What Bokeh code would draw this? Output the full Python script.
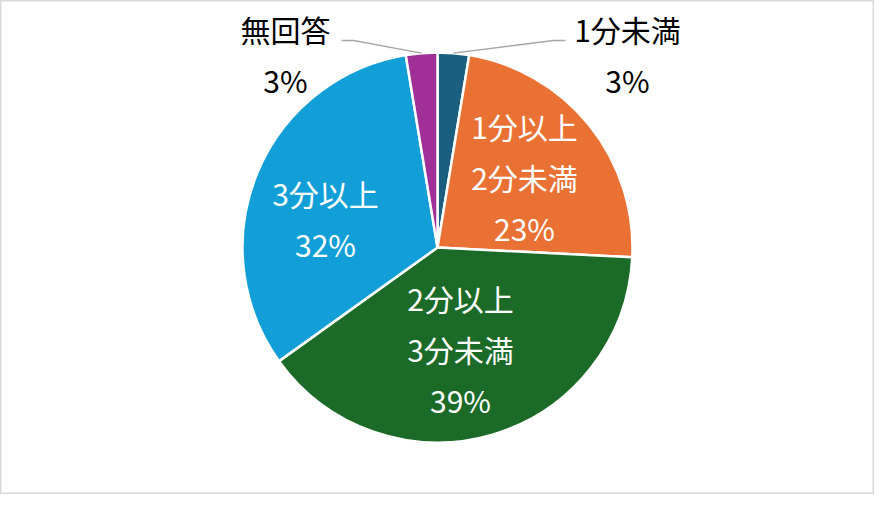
import math
from bokeh.plotting import figure
from bokeh.models import Range1d, ColumnDataSource
from bokeh.core.properties import value
from bokeh.embed import file_html
from bokeh.resources import INLINE

# ---- data ----
categories = ["1分未満", "1分以上2分未満", "2分以上3分未満", "3分以上", "無回答"]
shares = [2.6, 23.2, 39.3, 32.3, 2.6]
label_lines = [["1分未満", "3%"], ["1分以上", "2分未満", "23%"],
               ["2分以上", "3分未満", "39%"], ["3分以上", "32%"], ["無回答", "3%"]]
colors = ["#1a5f80", "#ea7134", "#1b6a27", "#129fd7", "#a02f98"]

# ---- layout ----
W, H = 874, 494
CX, CY = 437, 247          # pie centre (data units == pixels)
R = 195
FONT = "Noto Sans CJK JP"
FS = "30px"
LINE_GAP = 51
# label block centres, offsets from pie centre (x right, y up)
label_offsets = [(190, 193), (87, 71), (23, -101), (-112, 29), (-152, 193)]
outside = [True, False, False, False, True]
leader_start = [(-62, 14), None, None, None, (56, 14)]
elbow = [(-12, 0), None, None, None, (12, 0)]

p = figure(width=W, height=H, output_backend="svg", toolbar_location=None,
           x_range=Range1d(0, W), y_range=Range1d(0, H),
           x_axis_location=None, y_axis_location=None, min_border=0)
p.grid.visible = False
p.background_fill_color = "white"
p.border_fill_color = "white"
p.outline_line_color = "#d9d9d9"
p.outline_line_width = 2

total = sum(shares)
cum = 0.0
starts, ends, mids = [], [], []
for s in shares:
    a0 = math.pi / 2 - 2 * math.pi * cum / total
    cum += s
    a1 = math.pi / 2 - 2 * math.pi * cum / total
    starts.append(a1)
    ends.append(a0)
    mids.append((a0 + a1) / 2)

src = ColumnDataSource(dict(x=[CX] * len(shares), y=[CY] * len(shares),
                            start=starts, end=ends, color=colors, cat=categories))
p.wedge(x="x", y="y", radius=R, start_angle="start", end_angle="end",
        fill_color="color", line_color="white", line_width=2.5, source=src)

# leader lines
for i, is_out in enumerate(outside):
    if not is_out:
        continue
    lx = CX + label_offsets[i][0]
    ly = CY + label_offsets[i][1]
    sx = lx + leader_start[i][0]
    sy = ly + leader_start[i][1]
    ex = sx + elbow[i][0]
    ey = sy + elbow[i][1]
    px = CX + R * math.cos(mids[i])
    py = CY + R * math.sin(mids[i])
    p.line([sx, ex, px], [sy, ey, py], line_color="#a6a6a6", line_width=1.3)

# labels
tx, ty, tt, tc = [], [], [], []
for i, lines in enumerate(label_lines):
    bx = CX + label_offsets[i][0]
    by = CY + label_offsets[i][1]
    n = len(lines)
    for k, line in enumerate(lines):
        tx.append(bx)
        ty.append(by + ((n - 1) / 2 - k) * LINE_GAP)
        tt.append(line)
        tc.append("black" if outside[i] else "white")

p.text(x=tx, y=ty, text=tt, text_color=tc, text_font=value(FONT),
       text_font_size=FS, text_align="center", text_baseline="middle")

open("out.html", "w").write(file_html(p, INLINE))
